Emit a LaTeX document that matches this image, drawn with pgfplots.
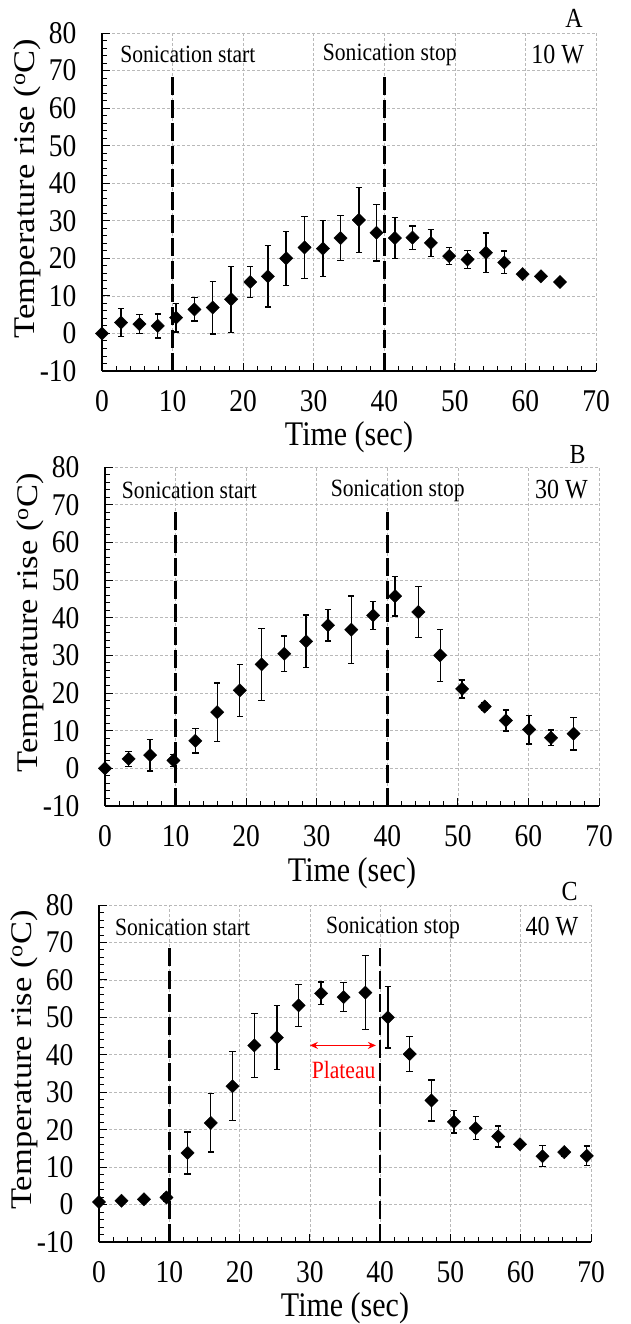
\documentclass[border=0pt]{standalone}
\usepackage{fontspec}
\setmainfont{Liberation Serif}
\usepackage{pgfplots}
\pgfplotsset{compat=1.18}
\usetikzlibrary{arrows.meta}

\newcommand{\tickfont}{\fontsize{27.5}{27.5}\selectfont}
\newcommand{\labfont}{\fontsize{30}{30}\selectfont}
\newcommand{\sonfont}{\fontsize{21.6}{21.6}\selectfont}
\newcommand{\powfont}{\fontsize{24}{24}\selectfont}

\pgfplotsset{
  panel/.style={
    scale only axis, width=494pt, height=338pt,
    xmin=0, xmax=70, ymin=-10, ymax=80,
    xtick distance=10, ytick distance=10,
    minor x tick num=4, minor y tick num=4,
    axis x line*=bottom, axis y line*=left,
    axis line style={black, line width=1.2pt, -},
    tick align=inside,
    major tick length=8pt, minor tick length=5pt,
    tick style={black, line width=0.9pt},
    grid=major,
    grid style={gray!55, line width=0.6pt, dash pattern=on 3pt off 2pt},
    /pgf/number format/assume math mode=true,
    tick label style={font=\tickfont, yscale=1.15},
    xticklabel style={yshift=-13pt},
    yticklabel style={xshift=-22pt},
    ylabel={Temperature rise (\textsuperscript{o}C)},
    xlabel={Time (sec)},
    ylabel style={font=\labfont, xscale=1.15, at={(axis description cs:-0.152,0.54)}, anchor=center},
    xlabel style={font=\labfont, yscale=1.15, at={(axis description cs:0.5,-0.197)}, anchor=center},
    clip=false,
  },
  pts/.style={only marks, black, mark=square*, mark size=4.7pt,
    mark options={rotate=45, black, fill=black},
    error bars/.cd, y dir=both, y explicit, error mark=-,
    error bar style={line width=1.4pt, black},
    error mark options={rotate=90, line width=1.4pt, mark size=3.2pt, black}},
  sonic/.style={black, line width=2.6pt, dash pattern=on 18pt off 5pt},
}

\begin{document}
\begin{tikzpicture}
\useasboundingbox (0,0) rectangle (630pt,1324pt);

% A: 10 W
\begin{axis}[panel, at={(102pt,953pt)}, anchor=south west]
\addplot[sonic] coordinates {(10,-10) (10,69.5)};
\addplot[sonic] coordinates {(40,-10) (40,69.5)};
\addplot[pts] coordinates {
(0,0) +- (0,0)
(2.7,2.9) +- (0,3.7)
(5.3,2.5) +- (0,2.5)
(7.9,2.0) +- (0,3.2)
(10.5,4.2) +- (0,3.8)
(13.1,6.4) +- (0,3.1)
(15.7,6.9) +- (0,7.0)
(18.3,9.1) +- (0,8.8)
(21.0,13.7) +- (0,4.2)
(23.5,15.2) +- (0,8.2)
(26.1,20.0) +- (0,7.2)
(28.7,22.9) +- (0,8.3)
(31.3,22.6) +- (0,7.4)
(33.8,25.4) +- (0,6.0)
(36.4,30.2) +- (0,8.6)
(38.9,26.8) +- (0,7.5)
(41.5,25.4) +- (0,5.4)
(44.0,25.5) +- (0,3.1)
(46.6,24.1) +- (0,3.6)
(49.2,20.6) +- (0,2.3)
(51.8,19.7) +- (0,2.4)
(54.4,21.5) +- (0,5.2)
(57.0,18.9) +- (0,3.0)
(59.6,15.8) +- (0,0.6)
(62.2,15.2) +- (0,0.5)
(64.9,13.7) +- (0,0.5)
};
\node[anchor=west, font=\sonfont, yscale=1.15] at (axis cs:2.1,74.2) {Sonication start};
\node[anchor=west, font=\sonfont, yscale=1.15] at (axis cs:30.8,74.2) {Sonication stop};
\node[anchor=east, font=\powfont, yscale=1.15] at (axis cs:68.8,74.3) {10 W};
\node[anchor=base east, font=\powfont, yscale=1.15] at (axis cs:68.6,81.5) {A};
\end{axis}

% B: 30 W
\begin{axis}[panel, at={(105pt,518pt)}, anchor=south west, height=339pt]
\addplot[sonic] coordinates {(10,-10) (10,69)};
\addplot[sonic] coordinates {(40,-10) (40,69)};
\addplot[pts] coordinates {
(0,0) +- (0,0)
(3.35,2.5) +- (0,2.0)
(6.4,3.5) +- (0,4.2)
(9.7,2.1) +- (0,1.6)
(12.8,7.3) +- (0,3.2)
(15.9,14.9) +- (0,7.8)
(19.1,20.7) +- (0,6.9)
(22.2,27.6) +- (0,9.6)
(25.4,30.4) +- (0,4.7)
(28.5,33.7) +- (0,7.0)
(31.6,38.0) +- (0,4.2)
(34.9,36.8) +- (0,9.0)
(38.0,40.6) +- (0,3.7)
(41.1,45.7) +- (0,5.3)
(44.4,41.5) +- (0,6.7)
(47.5,30.0) +- (0,6.9)
(50.6,21.1) +- (0,2.4)
(53.8,16.4) +- (0,1.0)
(56.8,12.7) +- (0,2.8)
(60.1,10.3) +- (0,3.8)
(63.2,8.1) +- (0,2.1)
(66.4,9.2) +- (0,4.3)
};
\node[anchor=west, font=\sonfont, yscale=1.15] at (axis cs:1.9,73.7) {Sonication start};
\node[anchor=west, font=\sonfont, yscale=1.15] at (axis cs:31.5,73.7) {Sonication stop};
\node[anchor=east, font=\powfont, yscale=1.15] at (axis cs:68.9,73.9) {30 W};
\node[anchor=base east, font=\powfont, yscale=1.15] at (axis cs:68.6,80.8) {B};
\end{axis}

% C: 40 W
\begin{axis}[panel, at={(99pt,82pt)}, anchor=south west, width=492pt, height=337pt]
\addplot[sonic] coordinates {(10,-10) (10,69.5)};
\addplot[sonic] coordinates {(40,-10) (40,69.5)};
\addplot[pts] coordinates {
(0,0.7) +- (0,0)
(3.2,1.0) +- (0,0)
(6.4,1.4) +- (0,0)
(9.6,1.9) +- (0,1.0)
(12.6,13.8) +- (0,5.6)
(15.9,21.8) +- (0,7.8)
(19.0,31.6) +- (0,9.2)
(22.1,42.5) +- (0,8.6)
(25.3,44.6) +- (0,8.6)
(28.4,53.2) +- (0,5.6)
(31.6,56.4) +- (0,3.0)
(34.8,55.4) +- (0,3.9)
(37.9,56.6) +- (0,9.9)
(41.1,50.0) +- (0,8.2)
(44.2,40.2) +- (0,4.7)
(47.3,27.8) +- (0,5.5)
(50.5,22.1) +- (0,3.0)
(53.6,20.4) +- (0,3.1)
(56.8,18.2) +- (0,2.8)
(59.9,16.1) +- (0,0.5)
(63.1,12.9) +- (0,2.8)
(66.2,14.0) +- (0,1.0)
(69.4,13.0) +- (0,2.6)
};
\addplot[red, line width=1.5pt, {Stealth[length=8pt,width=7pt]}-{Stealth[length=8pt,width=7pt]}] coordinates {(30.0,42.5) (39.4,42.5)};
\node[font=\sonfont, text=red, yscale=1.15] at (axis cs:34.8,36.0) {Plateau};
\node[anchor=west, font=\sonfont, yscale=1.15] at (axis cs:1.8,73.9) {Sonication start};
\node[anchor=west, font=\sonfont, yscale=1.15] at (axis cs:31.8,73.9) {Sonication stop};
\node[anchor=east, font=\powfont, yscale=1.15] at (axis cs:68.7,74.3) {40 W};
\node[anchor=base east, font=\powfont, yscale=1.15] at (axis cs:68.6,81.3) {C};
\end{axis}
\end{tikzpicture}
\end{document}
